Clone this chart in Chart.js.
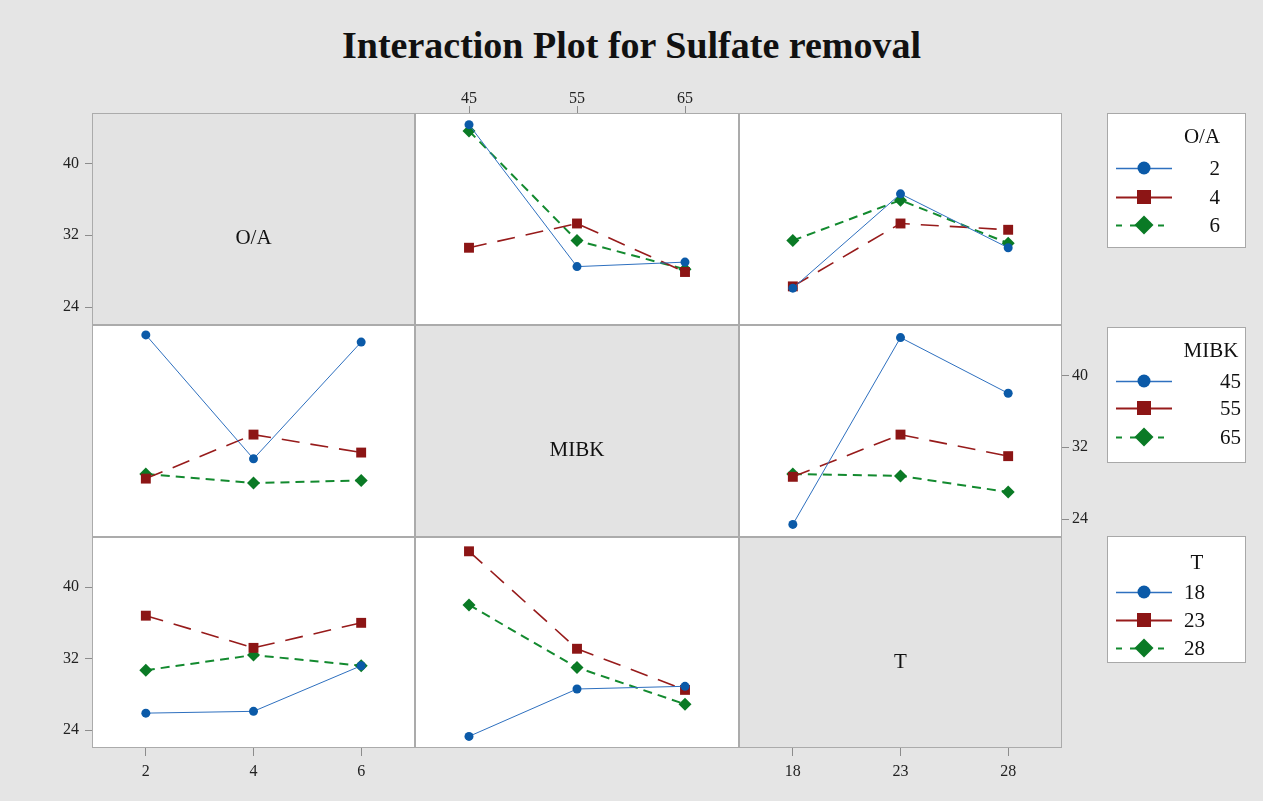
<!DOCTYPE html>
<html>
<head>
<meta charset="utf-8">
<script src="https://cdn.jsdelivr.net/npm/chart.js@4"></script>
<style>
    body { margin: 0; background: #e5e5e5; }
    #stage { position: relative; width: 1263px; height: 801px; overflow: hidden; background: #e5e5e5; }
    #stage canvas { position: absolute; }
    .title { position: absolute; left: 0; width: 1263px; top: 26px; text-align: center;
             font: bold 38px "Liberation Serif", "Times New Roman", serif; line-height: 38px; color: #111; }
    .diag { position: absolute; text-align: center; font: 21px "Liberation Serif", serif;
            line-height: 24px; height: 24px; color: #111; }
    .legbox { position: absolute; background: #fff; border: 1px solid #a8a8a8; box-sizing: border-box; }
    .legtxt { position: absolute; font: 21px "Liberation Serif", serif; line-height: 24px; height: 24px; color: #111; white-space: nowrap; }
</style>
</head>
<body>
<div id="stage">
    <div class="title">Interaction Plot for Sulfate removal</div>
</div>
<script>
// factor levels
const oaLevels = ["2", "4", "6"];
const mibkLevels = ["45", "55", "65"];
const tLevels = ["18", "23", "28"];
const yTicks = [24, 32, 40];

// mean Sulfate removal, one row per trace level, one column per x level
const mibkByOA = [   // x = MIBK, traces = O/A
    [44.3, 28.5, 29.0],
    [30.6, 33.3, 27.9],
    [43.6, 31.4, 28.2]
];
const tByOA = [      // x = T, traces = O/A
    [26.1, 36.6, 30.6],
    [26.3, 33.3, 32.6],
    [31.4, 35.9, 31.1]
];
const oaByMIBK = [   // x = O/A, traces = MIBK
    [44.5, 30.7, 43.7],
    [28.5, 33.4, 31.4],
    [29.0, 28.0, 28.3]
];
const tByMIBK = [    // x = T, traces = MIBK
    [23.4, 44.2, 38.0],
    [28.7, 33.4, 31.0],
    [29.0, 28.8, 27.0]
];
const oaByT = [      // x = O/A, traces = T
    [25.9, 26.1, 31.2],
    [36.8, 33.2, 36.0],
    [30.7, 32.4, 31.2]
];
const mibkByT = [    // x = MIBK, traces = T
    [23.3, 28.6, 28.9],
    [44.0, 33.1, 28.5],
    [38.0, 31.0, 26.9]
];

const factors = ["O/A", "MIBK", "T"];
const levels = [oaLevels, mibkLevels, tLevels];
const panels = { "01": mibkByOA, "02": tByOA, "10": oaByMIBK, "12": tByMIBK, "20": oaByT, "21": mibkByT };

// layout
const M = 40;
const colX = [92, 415, 739, 1062];
const rowY = [113, 325, 537, 748];
const Y_MIN = 22, Y_MAX = 45.6;

const styles = [
    { point: "#0b5aa8", line: "#2e70bf", width: 1, dash: [], shape: "circle", r: 4.5 },
    { point: "#8c1515", line: "#971b1b", width: 1.6, dash: [18, 11], shape: "rect", r: 7 },
    { point: "#0a7a25", line: "#138a2f", width: 2, dash: [9, 6], shape: "rectRot", r: 6.5 }
];

const tickFont = { family: "'Liberation Serif', 'Times New Roman', serif", size: 16 };
const stage = document.getElementById("stage");

const cellPlugin = {
    id: "cellBg",
    beforeDraw(chart, args, opts) {
        const a = chart.chartArea, ctx = chart.ctx;
        ctx.save();
        ctx.fillStyle = opts.fill;
        ctx.fillRect(a.left, a.top, a.right - a.left, a.bottom - a.top);
        ctx.restore();
    },
    afterDraw(chart) {
        const a = chart.chartArea, ctx = chart.ctx;
        ctx.save();
        ctx.strokeStyle = "#ababab";
        ctx.lineWidth = 1;
        ctx.strokeRect(a.left + 0.5, a.top + 0.5, a.right - a.left - 1, a.bottom - a.top - 1);
        ctx.restore();
    }
};

function makeCell(r, c) {
    const left = colX[c], top = rowY[r];
    const w = colX[c + 1] - left, h = rowY[r + 1] - top;
    const canvas = document.createElement("canvas");
    canvas.width = w + 2 * M;
    canvas.height = h + 2 * M;
    canvas.style.left = (left - M) + "px";
    canvas.style.top = (top - M) + "px";
    stage.appendChild(canvas);

    let xPos = null, yPos = null;
    if (r === 0 && c === 1) xPos = "top";
    if (r === 2 && (c === 0 || c === 2)) xPos = "bottom";
    if (c === 0 && (r === 0 || r === 2)) yPos = "left";
    if (r === 1 && c === 2) yPos = "right";

    const diag = r === c;
    const data = panels["" + r + c];
    const datasets = diag ? [] : data.map((vals, i) => ({
        label: levels[r][i],
        data: vals,
        borderColor: styles[i].line,
        borderWidth: styles[i].width,
        borderDash: styles[i].dash,
        pointStyle: styles[i].shape,
        pointRadius: styles[i].r,
        pointBackgroundColor: styles[i].point,
        pointBorderColor: styles[i].point,
        pointBorderWidth: 0,
        tension: 0,
        fill: false,
        clip: false
    }));

    const xScale = {
        type: "category",
        labels: levels[c],
        offset: true,
        display: !!xPos,
        position: xPos || "bottom",
        grid: { drawOnChartArea: false, drawTicks: true, tickLength: xPos === "top" ? 7 : 8, color: "#8c8c8c", offset: false },
        border: { display: false },
        ticks: { font: tickFont, color: "#222", padding: xPos === "top" ? -2 : 6, maxRotation: 0 }
    };
    if (xPos) xScale.afterFit = s => { s.height = M; };

    const yScale = {
        type: "linear",
        min: Y_MIN,
        max: Y_MAX,
        display: !!yPos,
        position: yPos || "left",
        afterBuildTicks: s => { s.ticks = yTicks.map(v => ({ value: v })); },
        grid: { drawOnChartArea: false, drawTicks: true, tickLength: 7, color: "#8c8c8c" },
        border: { display: false },
        ticks: { font: tickFont, color: "#222", padding: yPos === "right" ? 3 : 6 }
    };
    if (yPos) yScale.afterFit = s => { s.width = M; };

    new Chart(canvas.getContext("2d"), {
        type: "line",
        data: { labels: levels[c], datasets: datasets },
        options: {
            responsive: false,
            animation: false,
            devicePixelRatio: 1,
            layout: {
                padding: {
                    left: yPos === "left" ? 0 : M,
                    right: yPos === "right" ? 0 : M,
                    top: xPos === "top" ? 0 : M,
                    bottom: xPos === "bottom" ? 0 : M
                }
            },
            plugins: {
                legend: { display: false },
                tooltip: { enabled: false },
                cellBg: { fill: diag ? "#e3e3e3" : "#ffffff" }
            },
            scales: { x: xScale, y: yScale }
        },
        plugins: [cellPlugin]
    });

    if (diag) {
        const lab = document.createElement("div");
        lab.className = "diag";
        lab.textContent = factors[r];
        lab.style.left = left + "px";
        lab.style.width = w + "px";
        lab.style.top = (top + h / 2 + 18 - 12) + "px";
        stage.appendChild(lab);
    }
}

for (let r = 0; r < 3; r++) {
    for (let c = 0; c < 3; c++) makeCell(r, c);
}

// legends
const legendBoxes = [
    { factor: 0, top: 113, bottom: 248, titleY: 136, titleX: 1202, rows: [168, 197, 225], textRight: 1220 },
    { factor: 1, top: 327, bottom: 463, titleY: 350, titleX: 1211, rows: [381, 408, 437], textRight: 1241 },
    { factor: 2, top: 536, bottom: 663, titleY: 562, titleX: 1197, rows: [592, 620, 648], textRight: 1205 }
];
const LEG_LEFT = 1107, LEG_RIGHT = 1246;

function drawMarker(ctx, s, x, y) {
    ctx.fillStyle = s.point;
    ctx.beginPath();
    if (s.shape === "circle") {
        ctx.arc(x, y, 6.5, 0, Math.PI * 2);
    } else if (s.shape === "rect") {
        ctx.rect(x - 7, y - 7, 14, 14);
    } else {
        ctx.moveTo(x, y - 9.5);
        ctx.lineTo(x + 9.5, y);
        ctx.lineTo(x, y + 9.5);
        ctx.lineTo(x - 9.5, y);
        ctx.closePath();
    }
    ctx.fill();
}

legendBoxes.forEach(b => {
    const box = document.createElement("div");
    box.className = "legbox";
    box.style.left = LEG_LEFT + "px";
    box.style.top = b.top + "px";
    box.style.width = (LEG_RIGHT - LEG_LEFT) + "px";
    box.style.height = (b.bottom - b.top) + "px";
    stage.appendChild(box);

    const cv = document.createElement("canvas");
    cv.width = LEG_RIGHT - LEG_LEFT;
    cv.height = b.bottom - b.top;
    cv.style.left = LEG_LEFT + "px";
    cv.style.top = b.top + "px";
    stage.appendChild(cv);
    const ctx = cv.getContext("2d");

    const title = document.createElement("div");
    title.className = "legtxt";
    title.textContent = factors[b.factor];
    title.style.left = (b.titleX - 60) + "px";
    title.style.width = "120px";
    title.style.textAlign = "center";
    title.style.top = (b.titleY - 12) + "px";
    stage.appendChild(title);

    levels[b.factor].forEach((lv, i) => {
        const s = styles[i];
        const y = b.rows[i] - b.top;
        const x0 = 1116 - LEG_LEFT, x1 = 1172 - LEG_LEFT, xm = 1144 - LEG_LEFT;
        ctx.save();
        ctx.strokeStyle = s.line;
        ctx.lineWidth = i === 0 ? 1.5 : 2;
        ctx.setLineDash(i === 2 ? [6, 8] : []);
        ctx.beginPath();
        ctx.moveTo(x0, y + 0.5);
        ctx.lineTo(x1, y + 0.5);
        ctx.stroke();
        ctx.restore();
        drawMarker(ctx, s, xm, y);

        const t = document.createElement("div");
        t.className = "legtxt";
        t.textContent = lv;
        t.style.left = (b.textRight - 80) + "px";
        t.style.width = "80px";
        t.style.textAlign = "right";
        t.style.top = (b.rows[i] - 12) + "px";
        stage.appendChild(t);
    });
});
</script>
</body>
</html>
